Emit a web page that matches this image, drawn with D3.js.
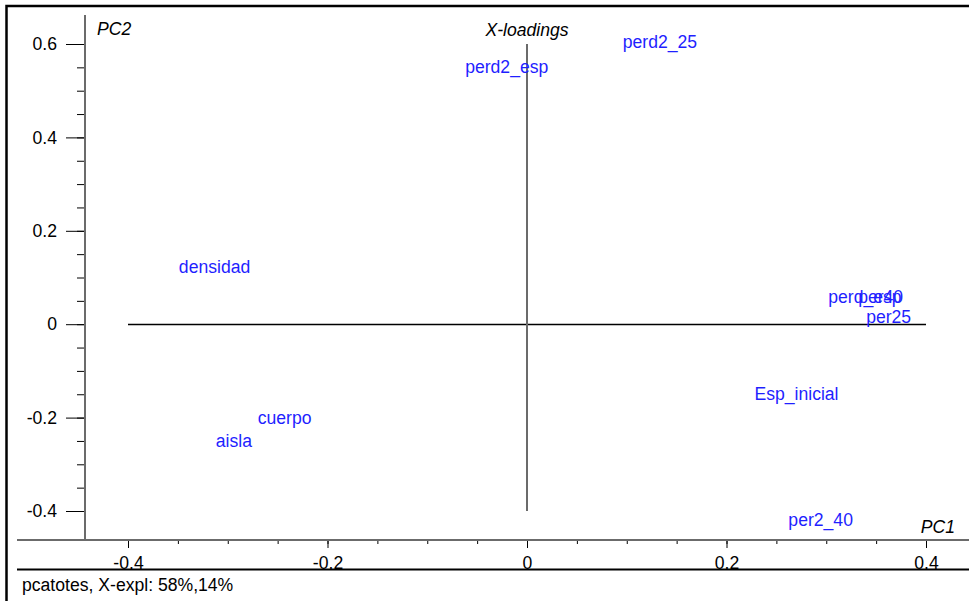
<!DOCTYPE html>
<html>
<head>
<meta charset="utf-8">
<script src="https://cdn.jsdelivr.net/npm/d3@7"></script>
<style>
  body { margin: 0; background: #fff; }
  svg { display: block; font-family: Arial, "Liberation Sans", sans-serif; }
</style>
</head>
<body>
<script>
const width = 969;
const height = 601;
const fontSize = 17.6;

// loadings (PC1, PC2)
const variables = ['perd2_25', 'perd2_esp', 'densidad', 'cuerpo', 'aisla', 'Esp_inicial', 'per2_40', 'perd_esp', 'per40', 'per25'];
const pc1 = [0.096, -0.062, -0.349, -0.270, -0.312, 0.228, 0.262, 0.302, 0.332, 0.340];
const pc2 = [0.602, 0.549, 0.120, -0.204, -0.253, -0.152, -0.422, 0.056, 0.056, 0.013];

const xMajor = [-0.4, -0.2, 0, 0.2, 0.4];
const yMajor = [-0.4, -0.2, 0, 0.2, 0.4, 0.6];
const xMinor = d3.range(-8, 9).map(d => d * 0.05);
const yMinor = d3.range(-8, 13).map(d => d * 0.05);

const blue = '#1f1fff';
const axisGrey = '#6b6b6b';

const svg = d3.select('body')
  .append('svg')
  .attr('width', width)
  .attr('height', height);

const xScale = d3.scaleLinear()
  .domain([-0.4, 0.4])
  .range([128, 926]);

const yScale = d3.scaleLinear()
  .domain([-0.4, 0.6])
  .range([511, 44]);

const axisY = 540;
const axisX = 85;
const fmt = d => d === 0 ? '0' : d.toFixed(1);

// outer frame
svg.append('rect')
  .attr('x', 6.5)
  .attr('y', 6)
  .attr('width', 1000)
  .attr('height', 700)
  .attr('fill', 'none')
  .attr('stroke', '#000')
  .attr('stroke-width', 2.5);

// x axis
const xMinorAxis = d3.axisBottom(xScale)
  .tickValues(xMinor)
  .tickSize(4)
  .tickFormat('');
const xAxis = d3.axisBottom(xScale)
  .tickValues(xMajor)
  .tickSize(8)
  .tickPadding(9)
  .tickFormat(fmt);

const gx = svg.append('g').attr('transform', `translate(0, ${axisY})`);
gx.append('g').call(xMinorAxis);
gx.append('g').call(xAxis);
gx.selectAll('.domain').remove();
gx.selectAll('line').attr('stroke', '#000');
gx.selectAll('text')
  .attr('font-size', fontSize)
  .attr('font-family', 'Arial, "Liberation Sans", sans-serif')
  .attr('fill', '#000');
svg.append('line')
  .attr('x1', 17).attr('x2', width)
  .attr('y1', axisY).attr('y2', axisY)
  .attr('stroke', axisGrey)
  .attr('stroke-width', 2);

// y axis
const yMinorAxis = d3.axisLeft(yScale)
  .tickValues(yMinor)
  .tickSize(8)
  .tickFormat('');
const yAxis = d3.axisLeft(yScale)
  .tickValues(yMajor)
  .tickSize(19)
  .tickPadding(9)
  .tickFormat(fmt);

const gy = svg.append('g').attr('transform', `translate(${axisX}, 0)`);
gy.append('g').call(yMinorAxis);
gy.append('g').call(yAxis);
gy.selectAll('.domain').remove();
gy.selectAll('line').attr('stroke', '#000');
gy.selectAll('text')
  .attr('font-size', fontSize)
  .attr('font-family', 'Arial, "Liberation Sans", sans-serif')
  .attr('fill', '#000');
svg.append('line')
  .attr('x1', axisX).attr('x2', axisX)
  .attr('y1', 15).attr('y2', axisY)
  .attr('stroke', axisGrey)
  .attr('stroke-width', 2);

// separator + footer
svg.append('line')
  .attr('x1', 17).attr('x2', width)
  .attr('y1', 569.5).attr('y2', 569.5)
  .attr('stroke', '#000')
  .attr('stroke-width', 2);
svg.append('text')
  .attr('x', 22)
  .attr('y', 591)
  .attr('font-size', fontSize)
  .text('pcatotes, X-expl: 58%,14%');

// zero lines
const y0 = Math.round(yScale(0)) + 0.5;
svg.append('line')
  .attr('x1', xScale(-0.4)).attr('x2', xScale(0.4))
  .attr('y1', y0).attr('y2', y0)
  .attr('stroke', '#000')
  .attr('stroke-width', 1.3);
svg.append('line')
  .attr('x1', xScale(0)).attr('x2', xScale(0))
  .attr('y1', yScale(0.6)).attr('y2', yScale(-0.4))
  .attr('stroke', axisGrey)
  .attr('stroke-width', 2);

// titles
svg.append('text')
  .attr('x', 97).attr('y', 35)
  .attr('font-size', fontSize)
  .attr('font-style', 'italic')
  .text('PC2');
svg.append('text')
  .attr('x', xScale(0)).attr('y', 36)
  .attr('text-anchor', 'middle')
  .attr('font-size', fontSize)
  .attr('font-style', 'italic')
  .text('X-loadings');
svg.append('text')
  .attr('x', 955).attr('y', 533)
  .attr('text-anchor', 'end')
  .attr('font-size', fontSize)
  .attr('font-style', 'italic')
  .text('PC1');

// variable labels
svg.selectAll('.var')
  .data(variables)
  .enter()
  .append('text')
  .attr('class', 'var')
  .attr('x', (d, i) => xScale(pc1[i]))
  .attr('y', (d, i) => yScale(pc2[i]) + 5)
  .attr('font-size', fontSize)
  .attr('fill', blue)
  .text(d => d);
</script>
</body>
</html>
